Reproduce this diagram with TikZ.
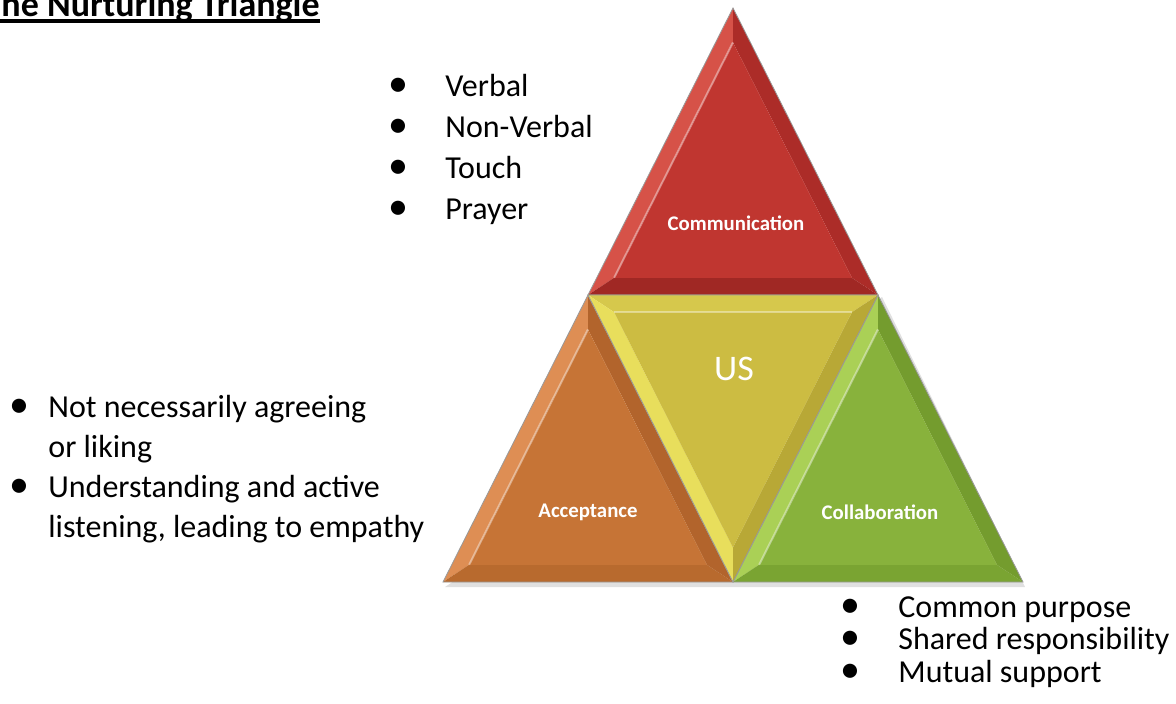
\documentclass[tikz,border=0pt]{standalone}
\usepackage{fontspec}
\setmainfont{Carlito}
\usetikzlibrary{calc}
\usetikzlibrary{positioning, shapes}

\definecolor{redface}{RGB}{192,54,48}
\definecolor{redlight}{RGB}{214,82,72}
\definecolor{reddark}{RGB}{172,44,40}
\definecolor{redbase}{RGB}{160,40,36}
\definecolor{usface}{RGB}{204,188,66}
\definecolor{uslight}{RGB}{232,222,92}
\definecolor{usdark}{RGB}{184,168,54}
\definecolor{usbase}{RGB}{214,200,76}
\definecolor{accface}{RGB}{198,116,54}
\definecolor{acclight}{RGB}{222,142,84}
\definecolor{accdark}{RGB}{178,100,44}
\definecolor{accbase}{RGB}{184,106,46}
\definecolor{colface}{RGB}{136,178,60}
\definecolor{collight}{RGB}{170,208,86}
\definecolor{coldark}{RGB}{116,156,46}
\definecolor{colbase}{RGB}{122,164,50}

\tikzset{
  listtext/.style={inner sep=0pt, anchor=base west, align=left},
  tlabel/.style={text=white, font=\bfseries\fontsize{10.4}{12}\selectfont, inner sep=1pt},
  edge/.style={draw=black!40, line width=0.4pt, line join=miter}
}

% bullet with fixed box
\newcommand\bul[1]{\makebox[#1][l]{\scalebox{1.25}{\textbullet}}}
\newlength\ttlw
\newcommand\ttlline[1]{\settowidth\ttlw{#1}\rlap{\rule[-3pt]{\ttlw}{2pt}}#1}

% beveled triangle: name, v1, v2, v3, face, strip12, strip13, strip23
\newcommand\bevtri[8]{%
  \coordinate (#1-g) at (barycentric cs:#2=1,#3=1,#4=1);
  \coordinate (#1-a) at ($(#2)!0.18!(#1-g)$);
  \coordinate (#1-b) at ($(#3)!0.18!(#1-g)$);
  \coordinate (#1-c) at ($(#4)!0.18!(#1-g)$);
  \fill[#6] (#2) -- (#3) -- (#1-b) -- (#1-a) -- cycle;
  \fill[#7] (#2) -- (#4) -- (#1-c) -- (#1-a) -- cycle;
  \fill[#8] (#3) -- (#4) -- (#1-c) -- (#1-b) -- cycle;
  \fill[#5] (#1-a) -- (#1-b) -- (#1-c) -- cycle;
  \draw[white, opacity=.4, line width=1pt] (#1-a) -- (#1-b);
  \draw[edge] (#2) -- (#3) -- (#4) -- cycle;
}

\begin{document}
\begin{tikzpicture}[x=0.5pt, y=-0.5pt]
\useasboundingbox (0,0) rectangle (1176,704);

% corners of the big triangle
\coordinate (top) at (733,8);
\coordinate (bl) at (443,582);
\coordinate (br) at (1023,582);
\coordinate (ml) at (588,295);
\coordinate (mr) at (878,295);
\coordinate (mb) at (733,582);

% soft shadow
\fill[black, opacity=.12] ($(bl)+(2,5)$) -- ($(br)+(2,5)$) -- ($(mr)+(4,2)$) -- cycle;

\bevtri{comm}{top}{ml}{mr}{redface}{redlight}{reddark}{redbase}
\bevtri{acc}{ml}{bl}{mb}{accface}{acclight}{accdark}{accbase}
\bevtri{coll}{mr}{mb}{br}{colface}{collight}{coldark}{colbase}
\bevtri{us}{ml}{mr}{mb}{usface}{usbase}{uslight}{usdark}

% labels
\node[tlabel] (lcomm) at (736,223) {Communication};
\node[tlabel] (lacc) at (588,512) {Acceptance};
\node[tlabel] (lcoll) at (880,512) {Collaboration};
\node[text=white, font=\fontsize{18}{20}\selectfont, inner sep=0pt] (lus) at (734,369) {US};

% title
\node[inner sep=0pt, anchor=base east, font=\bfseries\fontsize{18}{20}\selectfont] (title) at (320,17)
  {\ttlline{The Nurturing Triangle}};

% lists (placed by the baseline of their last line)
\node[listtext, font=\fontsize{16}{20.5}\selectfont] (commlist) at (388,220)
  {\bul{28.5pt}Verbal\\ \bul{28.5pt}Non-Verbal\\ \bul{28.5pt}Touch\\ \bul{28.5pt}Prayer};
\node[listtext, font=\fontsize{16}{20}\selectfont] (acclist) at (9,538)
  {\bul{19.5pt}Not necessarily agreeing\\ \hspace*{19.5pt}or liking\\
   \bul{19.5pt}Understanding and active\\ \hspace*{19.5pt}listening, leading to empathy};
\node[listtext, font=\fontsize{16}{16.25}\selectfont] (colllist) at (840,682)
  {\bul{29pt}Common purpose\\ \bul{29pt}Shared responsibility\\ \bul{29pt}Mutual support};
\end{tikzpicture}
\end{document}
